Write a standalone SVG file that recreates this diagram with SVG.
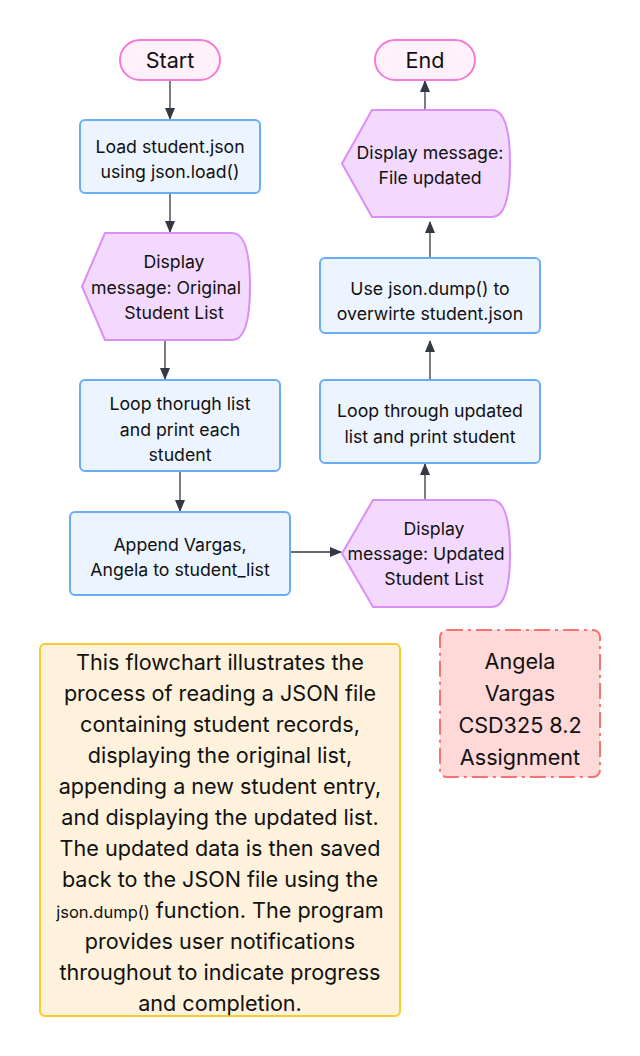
<svg xmlns="http://www.w3.org/2000/svg" width="640" height="1056" viewBox="0 0 640 1056">
<defs>
<marker id="ah" viewBox="0 0 12 12" refX="11" refY="6" markerWidth="12" markerHeight="12" markerUnits="userSpaceOnUse" orient="auto">
<path d="M0,1 L12,6 L0,11 Z" fill="#333842"/>
</marker>
<style>
text{font-family:Inter,"Noto Sans","Liberation Sans",sans-serif;fill:#111;text-anchor:middle}
.t16{font-size:17.7px}
.t20{font-size:21.6px}
.pill{fill:#fff0fa;stroke:#f57ad9;stroke-width:2}
.proc{fill:#ecf4ff;stroke:#6aadf7;stroke-width:2}
.disp{fill:#f2d9fd;stroke:#dc8ef7;stroke-width:2}
.note{fill:#fff2dc;stroke:#f7cb2c;stroke-width:2}
.auth{fill:#ffd8d8;stroke:#f77272;stroke-width:2;stroke-dasharray:16 5 3 5}
.edge{fill:none;stroke:#333842;stroke-width:1.3;marker-end:url(#ah)}
</style>
</defs>
<rect width="640" height="1056" fill="#fff"/>
<g id="connectors">
<path class="edge" d="M170,80 V119"/>
<path class="edge" d="M170,193 V232"/>
<path class="edge" d="M165,341 V379"/>
<path class="edge" d="M180,471 V511"/>
<path class="edge" d="M290,552 H341"/>
<path class="edge" d="M425,500 V464"/>
<path class="edge" d="M430,380 V341"/>
<path class="edge" d="M430,258 V222"/>
<path class="edge" d="M425,110 V81"/>
</g>
<g id="start">
<rect class="pill" x="120" y="40" width="100" height="40" rx="20"/>
<text class="t20" x="170" y="68">Start</text>
</g>
<g id="load">
<rect class="proc" x="80" y="120" width="180" height="73" rx="5"/>
<text class="t16" x="170" y="153">Load student.json</text>
<text class="t16" x="170" y="178">using json.load()</text>
</g>
<g id="disp_orig">
<path class="disp" d="M105,233 L232,233 Q250,233 250,286.5 Q250,340 232,340 L105,340 L82,286.5 Z"/>
<text class="t16" x="174" y="268">Display</text>
<text class="t16" x="166" y="294">message: Original</text>
<text class="t16" x="174" y="319">Student List</text>
</g>
<g id="loop_orig">
<rect class="proc" x="80" y="380" width="200" height="91" rx="5"/>
<text class="t16" x="180" y="410">Loop thorugh list</text>
<text class="t16" x="180" y="436">and print each</text>
<text class="t16" x="180" y="461">student</text>
</g>
<g id="append">
<rect class="proc" x="70" y="512" width="220" height="83" rx="5"/>
<text class="t16" x="180" y="551">Append Vargas,</text>
<text class="t16" x="180" y="576">Angela to student_list</text>
</g>
<g id="disp_upd">
<path class="disp" d="M373,500 L492,500 Q510,500 510,553.5 Q510,607 492,607 L373,607 L342,553.5 Z"/>
<text class="t16" x="434" y="535">Display</text>
<text class="t16" x="426" y="560">message: Updated</text>
<text class="t16" x="434" y="585">Student List</text>
</g>
<g id="loop_upd">
<rect class="proc" x="320" y="380" width="220" height="83" rx="5"/>
<text class="t16" x="430" y="417">Loop through updated</text>
<text class="t16" x="430" y="443">list and print student</text>
</g>
<g id="dump">
<rect class="proc" x="320" y="258" width="220" height="75" rx="5"/>
<text class="t16" x="430" y="295">Use json.dump() to</text>
<text class="t16" x="430" y="320">overwirte student.json</text>
</g>
<g id="disp_file">
<path class="disp" d="M372,110 L492,110 Q510,110 510,163.5 Q510,217 492,217 L372,217 L342,163.5 Z"/>
<text class="t16" x="430" y="159">Display message:</text>
<text class="t16" x="430" y="184">File updated</text>
</g>
<g id="end">
<rect class="pill" x="375" y="40" width="100" height="40" rx="20"/>
<text class="t20" x="425" y="68">End</text>
</g>
<g id="note">
<rect class="note" x="40" y="644" width="360" height="372" rx="5"/>
<text class="t20" x="220" y="670">This flowchart illustrates the</text>
<text class="t20" x="220" y="701">process of reading a JSON file</text>
<text class="t20" x="220" y="732">containing student records,</text>
<text class="t20" x="220" y="763">displaying the original list,</text>
<text class="t20" x="220" y="794">appending a new student entry,</text>
<text class="t20" x="220" y="825">and displaying the updated list.</text>
<text class="t20" x="220" y="856">The updated data is then saved</text>
<text class="t20" x="220" y="887">back to the JSON file using the</text>
<text class="t20" x="220" y="918"><tspan style="font-size:16.5px">json.dump()</tspan> function. The program</text>
<text class="t20" x="220" y="949">provides user notifications</text>
<text class="t20" x="220" y="980">throughout to indicate progress</text>
<text class="t20" x="220" y="1011">and completion.</text>
</g>
<g id="author">
<rect class="auth" x="440" y="630" width="160" height="147" rx="7"/>
<text class="t20" x="520" y="669">Angela</text>
<text class="t20" x="520" y="701">Vargas</text>
<text class="t20" x="520" y="733">CSD325 8.2</text>
<text class="t20" x="520" y="765">Assignment</text>
</g>
</svg>
